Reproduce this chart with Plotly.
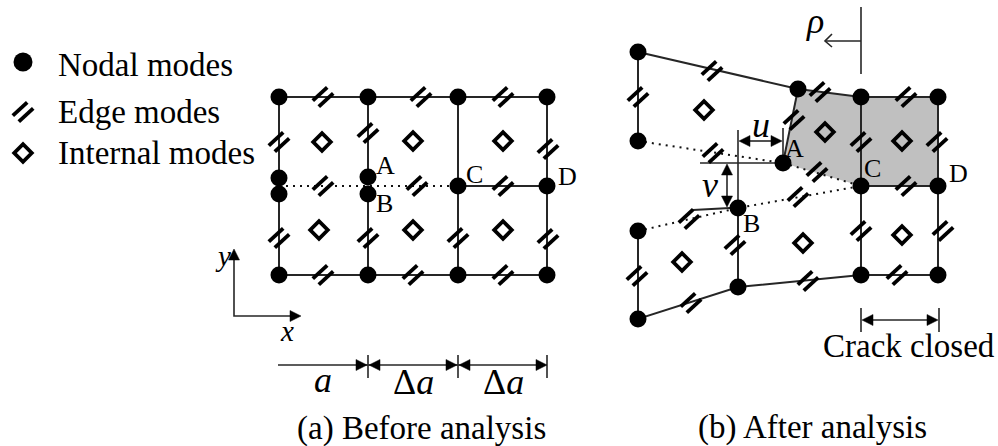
import plotly.graph_objects as go

# ---- nodal modes (x, y in figure units)
nodes_a_x = [279, 368, 458, 547, 279, 279, 368, 368, 458, 547, 279, 368, 458, 547]
nodes_a_y = [97, 97, 97, 97, 178, 194, 177, 194, 186, 186, 275, 275, 275, 275]
nodes_b_x = [638, 638, 798, 783, 738, 861, 938, 861, 938, 638, 638, 738, 861, 938]
nodes_b_y = [52, 141, 89, 163, 208, 97, 97, 186, 186, 231, 319, 287, 275, 275]

# ---- edge modes
edges_a_x = [323, 421, 503, 279, 279, 368, 368, 458, 548, 548, 323, 417, 503, 323, 413, 503]
edges_a_y = [97, 97, 97, 142, 238, 133, 238, 238, 149, 239, 186, 186, 186, 275, 275, 275]
edges_b_x = [712, 638, 820, 794, 713, 817, 798, 906, 861, 937, 906, 689, 735, 861, 943, 637, 691, 808, 897]
edges_b_y = [71, 97, 92, 120, 153, 172, 197, 97, 142, 142, 186, 219, 245, 231, 231, 276, 303, 281, 275]

# ---- internal modes
inner_a_x = [322, 413, 503, 319, 413, 503]
inner_a_y = [142, 141, 141, 230, 230, 230]
inner_b_x = [704, 825, 902, 803, 902, 682]
inner_b_y = [110, 132, 141, 243, 235, 262]

# ---- legend
legend_labels = ["Nodal modes", "Edge modes", "Internal modes"]
legend_x = [23, 23, 23]
legend_y = [62, 112, 153]
legend_base = [75, 122, 163]

# ---- mesh lines
mesh_x = [279, 547, None, 279, 547, None, 279, 279, None, 368, 368, None, 458, 458, None, 547, 547, None, 458, 547, None,
          638, 798, 861, 938, 938, 861, 738, 638, 638, None, 638, 638, None, 861, 861, None, 798, 783, None, 861, 938, None,
          738, 738, None, 693, 730]
mesh_y = [97, 97, None, 275, 275, None, 97, 275, None, 97, 177, None, 97, 275, None, 97, 275, None, 186, 186, None,
          52, 89, 97, 97, 275, 275, 287, 319, 231, None, 52, 141, None, 97, 275, None, 89, 163, None, 186, 186, None,
          208, 287, None, 210, 208]
mesh2_x = [368, 368]
mesh2_y = [194, 275]

# ---- crack faces (dotted)
dot_x = [279, 458, None, 638, 783, 861, None, 638, 738, 861]
dot_y = [186, 186, None, 141, 163, 186, None, 231, 208, 186]

# ---- closed region
gray_x = [798, 861, 938, 938, 861, 783]
gray_y = [89, 97, 97, 186, 186, 163]

# ---- dimension and guide lines
guide_x = [234, 234, 234, 292, None, 278, 538, None, 368, 368, None, 458, 458, None, 547, 547, None,
           738, 738, None, 700, 783, None, 783, 783, None, 745, 775, None, 727, 727, None,
           861, 861, None, 861, 826, None, 861, 861, None, 939, 939, None, 870, 930]
guide_y = [258, 316, 316, 316, None, 365, 365, None, 355, 378, None, 355, 378, None, 355, 378, None,
           130, 208, None, 163, 163, None, 128, 163, None, 141, 141, None, 172, 199, None,
           7, 74, None, 41, 41, None, 308, 332, None, 308, 332, None, 320, 320]
rho_head_x = [832, 825, 832]
rho_head_y = [34, 41, 47]

# ---- arrow heads: tip x, tip y, direction x, direction y
tip_x = [234, 301, 367, 369, 457, 459, 547, 739, 782, 727, 727, 862, 938]
tip_y = [249, 316, 365, 365, 365, 365, 365, 141, 141, 164, 207, 320, 320]
dir_x = [0, 1, 1, -1, 1, -1, 1, -1, 1, 0, 0, -1, 1]
dir_y = [-1, 0, 0, 0, 0, 0, 0, 0, 0, -1, 1, 0, 0]

# ---- text
upright_labels = ["A", "B", "C", "D", "A", "B", "C", "D"]
upright_x = [385, 384, 474, 567, 794, 751, 872, 958]
upright_y = [165, 203, 174, 176, 148, 223, 168, 173]
italic_labels = ["<i>x</i>", "<i>y</i>", "<i>a</i>", "Δ<i>a</i>", "Δ<i>a</i>", "<i>u</i>", "<i>v</i>", "<i>ρ</i>"]
italic_x = [287, 223, 323, 413, 503, 761, 710, 815]
italic_y = [331, 256, 380, 382, 382, 125, 185, 21]
italic_size = [29, 29, 36, 36, 36, 36, 36, 36]
big_labels = ["(a) Before analysis", "(b) After analysis", "Crack closed"]
big_x = [296, 697, 822]
big_base = [438, 437, 356]

LINE = "#262626"
SERIF = "Liberation Serif"


def slashes(xs, ys):
    ox, oy = [], []
    for x, y in zip(xs, ys):
        for s in (-1, 1):
            cx, cy = x + s * 3.0, y + s * 3.0
            ox += [cx - 7.2, cx + 7.2, None]
            oy += [cy + 6.6, cy - 6.6, None]
    return ox, oy


def heads(txs, tys, dxs, dys, length=11, half=5.5):
    ox, oy = [], []
    for x, y, dx, dy in zip(txs, tys, dxs, dys):
        bx, by = x - dx * length, y - dy * length
        ox += [x, bx - dy * half, bx + dy * half, x, None]
        oy += [y, by - dx * half, by + dx * half, y, None]
    return ox, oy


fig = go.Figure()


def add(**kw):
    fig.add_trace(go.Scatter(hoverinfo="skip", showlegend=False, **kw))


add(x=gray_x + gray_x[:1], y=gray_y + gray_y[:1], mode="lines", fill="toself",
    fillcolor="#c0c0c0", line=dict(width=0))
add(x=dot_x, y=dot_y, mode="lines", line=dict(color="#111111", width=2, dash="2px,5px"))
add(x=mesh_x, y=mesh_y, mode="lines", line=dict(color=LINE, width=2))
add(x=mesh2_x, y=mesh2_y, mode="lines", line=dict(color=LINE, width=2))
add(x=guide_x, y=guide_y, mode="lines", line=dict(color=LINE, width=1.6))
add(x=rho_head_x, y=rho_head_y, mode="lines", line=dict(color=LINE, width=1.6))
hx, hy = heads(tip_x, tip_y, dir_x, dir_y)
add(x=hx, y=hy, mode="lines", fill="toself", fillcolor="black", line=dict(color="black", width=0.5))

sx, sy = slashes(edges_a_x + edges_b_x + legend_x[1:2], edges_a_y + edges_b_y + legend_y[1:2])
add(x=sx, y=sy, mode="lines", line=dict(color="black", width=3.8))
add(x=nodes_a_x + nodes_b_x, y=nodes_a_y + nodes_b_y, mode="markers",
    marker=dict(color="black", size=17, line=dict(width=0)))
add(x=legend_x[:1], y=legend_y[:1], mode="markers", marker=dict(color="black", size=19, line=dict(width=0)))
add(x=inner_a_x + inner_b_x + legend_x[2:], y=inner_a_y + inner_b_y + legend_y[2:], mode="markers",
    marker=dict(symbol="diamond-open", color="black", size=13.5, line=dict(color="black", width=3.8)))

ann = []


def text(t, x, y, size, anchor="center"):
    ann.append(dict(text=t, x=x, y=y, xref="x", yref="y", showarrow=False, xanchor=anchor, yanchor="middle",
                    font=dict(family=SERIF, size=size, color="black"), borderpad=0))


for t, x, b in zip(legend_labels, [57] * 3, legend_base):
    text(t, x, b - 0.3 * 33, 33, "left")
for t, x, b in zip(big_labels, big_x, big_base):
    text(t, x, b - 0.3 * 33, 33, "left")
for t, x, y in zip(upright_labels, upright_x, upright_y):
    text(t, x, y, 26)
for t, x, y, s in zip(italic_labels, italic_x, italic_y, italic_size):
    text(t, x, y, s)

fig.update_layout(
    width=998, height=446, margin=dict(l=0, r=0, t=0, b=0), autosize=False,
    paper_bgcolor="white", plot_bgcolor="white", annotations=ann,
    xaxis=dict(range=[0, 998], visible=False, fixedrange=True),
    yaxis=dict(range=[446, 0], visible=False, fixedrange=True),
)
fig.write_html("out.html", config=dict(displayModeBar=False, staticPlot=True),
               post_script="document.body.style.margin='0';document.body.style.overflow='hidden';")
